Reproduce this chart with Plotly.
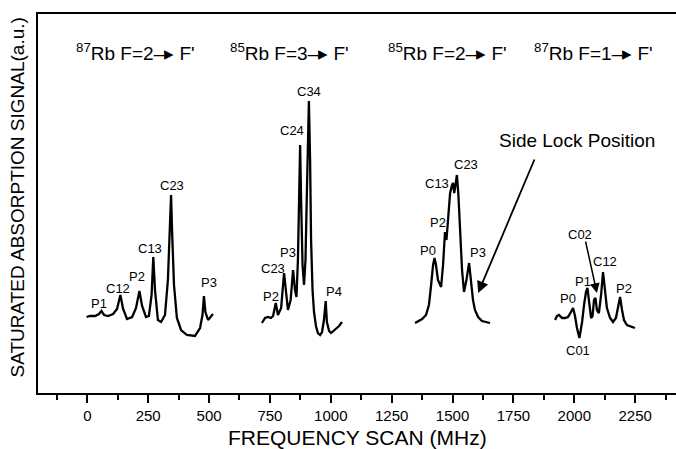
import plotly.graph_objects as go

# ---- data (frequency in MHz, signal in arbitrary units) ----
rb87_f2_x = [-3, 11, 32, 48, 58, 69, 85, 106, 122, 136, 147, 163, 184, 200, 214, 225, 241, 253, 264, 271,
             278, 290, 303, 319, 331, 340, 344, 348, 356, 368, 385, 409, 442, 463, 473, 479, 485, 496, 508, 516]
rb87_f2_y = [76, 77, 77, 79, 82, 78, 77, 79, 84, 98, 84, 74, 76, 85, 102, 87, 76, 77, 98, 136,
             103, 73, 71, 78, 113, 163, 198, 163, 108, 75, 63, 58, 57, 65, 78, 97, 81, 73, 76, 79]

rb85_f3_x = [717, 730, 742, 754, 763, 774, 783, 796, 808, 816, 824, 835, 845, 853, 859, 865, 869, 874, 878, 884,
             890, 896, 902, 906, 910, 915, 919, 925, 931, 939, 947, 956, 964, 972, 979, 984, 993, 1001, 1017, 1034, 1046]
rb85_f3_y = [70, 75, 76, 75, 77, 90, 78, 85, 120, 98, 83, 93, 123, 103, 96, 133, 193, 248, 193, 128,
             108, 133, 203, 253, 292, 233, 153, 103, 81, 67, 60, 58, 61, 73, 92, 71, 62, 60, 63, 67, 71]

rb85_f2_x = [1346, 1358, 1375, 1391, 1403, 1412, 1420, 1426, 1432, 1440, 1453, 1461, 1469, 1475, 1481, 1490, 1498,
             1502, 1507, 1512, 1518, 1524, 1531, 1539, 1547, 1557, 1568, 1576, 1584, 1592, 1605, 1621, 1637, 1654]
rb85_f2_y = [70, 72, 74, 78, 88, 108, 128, 135, 128, 113, 106, 128, 161, 153, 173, 200, 208,
             210, 200, 208, 218, 198, 166, 123, 101, 113, 130, 113, 93, 83, 76, 72, 71, 70]

rb87_f1_x = [1921, 1929, 1937, 1950, 1962, 1974, 1982, 1995, 2003, 2011, 2021, 2032, 2040, 2048, 2054, 2060, 2069, 2075,
             2081, 2087, 2093, 2101, 2110, 2118, 2126, 2134, 2147, 2159, 2171, 2180, 2188, 2196, 2204, 2216, 2229, 2249]
rb87_f1_y = [73, 77, 78, 75, 75, 76, 79, 85, 77, 65, 55, 71, 88, 101, 105, 93, 75, 77,
             93, 95, 83, 80, 98, 121, 103, 85, 75, 71, 75, 85, 96, 83, 73, 68, 67, 65]

# peak labels
peak_names = ["P1", "C12", "P2", "C13", "C23", "P3",
              "P2", "C23", "P3", "C24", "C34", "P4",
              "P0", "P2", "C13", "C23", "P3",
              "P0", "P1", "C02", "C12", "P2", "C01"]
peak_x = [48, 126, 204, 257, 348, 500,
          754, 763, 824, 841, 910, 1013,
          1399, 1440, 1436, 1555, 1605,
          1974, 2036, 2023, 2126, 2204, 2015]
peak_y = [90, 105, 117, 145, 208, 111,
          97, 125, 141, 263, 302, 102,
          143, 171, 210, 229, 141,
          95, 112, 159, 132, 105, 43]

group_titles = ["<sup>87</sup>Rb F=2\u2013\u25b8 F'", "<sup>85</sup>Rb F=3\u2013\u25b8 F'",
                "<sup>85</sup>Rb F=2\u2013\u25b8 F'", "<sup>87</sup>Rb F=1\u2013\u25b8 F'"]
group_title_x = [-55, 578, 1227, 1826]
group_title_y = 341

tick_vals = [0, 250, 500, 750, 1000, 1250, 1500, 1750, 2000, 2250]
tick_text = [str(v) for v in tick_vals]

FONT = "Liberation Sans, Arial, sans-serif"

fig = go.Figure()
for xs, ys in [(rb87_f2_x, rb87_f2_y), (rb85_f3_x, rb85_f3_y), (rb85_f2_x, rb85_f2_y), (rb87_f1_x, rb87_f1_y)]:
    fig.add_trace(go.Scatter(x=xs, y=ys, mode="lines", line=dict(color="black", width=2.3),
                             showlegend=False, hoverinfo="skip"))

ann = []
for name, x, y in zip(peak_names, peak_x, peak_y):
    ann.append(dict(x=x, y=y, xref="x", yref="y", text=name, showarrow=False,
                    font=dict(family=FONT, size=13, color="black")))
for t, x in zip(group_titles, group_title_x):
    ann.append(dict(x=x, y=group_title_y, xref="x", yref="y", text=t, showarrow=False,
                    xanchor="left", font=dict(family=FONT, size=19, color="black")))
ann.append(dict(x=2011, y=253, xref="x", yref="y", text="Side Lock Position", showarrow=False,
                font=dict(family=FONT, size=19, color="black")))
# arrows
ann.append(dict(x=1605, y=100, ax=1839, ay=235, xref="x", yref="y", axref="x", ayref="y",
                text="", showarrow=True, arrowhead=2, arrowsize=1.3, arrowwidth=1.8, arrowcolor="black"))
ann.append(dict(x=2093, y=100, ax=2045, ay=153, xref="x", yref="y", axref="x", ayref="y",
                text="", showarrow=True, arrowhead=2, arrowsize=1.3, arrowwidth=1.5, arrowcolor="black"))
# axis titles
ann.append(dict(x=(357 - 38) / 638, y=(393 - 437) / 379, xref="paper", yref="paper",
                text="FREQUENCY SCAN (MHz)", showarrow=False, xanchor="center", yanchor="middle",
                font=dict(family=FONT, size=21, color="black")))
ann.append(dict(x=(17.5 - 38) / 638, y=(393 - 198) / 379, xref="paper", yref="paper",
                text="SATURATED ABSORPTION SIGNAL(a.u.)", showarrow=False, textangle=-90,
                xanchor="center", yanchor="middle",
                font=dict(family=FONT, size=19, color="black")))

fig.update_layout(
    width=676, height=449,
    margin=dict(l=38, r=0, t=14, b=56),
    paper_bgcolor="white", plot_bgcolor="white",
    annotations=ann,
    xaxis=dict(range=[-202.5, 2417.7], tickmode="array", tickvals=tick_vals, ticktext=tick_text,
               ticks="outside", ticklen=8, tickwidth=1.5, tickcolor="black",
               minor=dict(tickmode="linear", tick0=-125, dtick=250, ticks="outside", ticklen=5,
                          tickwidth=1.5, tickcolor="black"),
               showline=True, linewidth=2, linecolor="black", mirror=True,
               showgrid=False, zeroline=False,
               tickfont=dict(family=FONT, size=15, color="black")),
    yaxis=dict(range=[0, 379], showticklabels=False, ticks="", showline=True, linewidth=2,
               linecolor="black", showgrid=False, zeroline=False),
)

fig.write_html("out.html", config={"displayModeBar": False},
               post_script="document.body.style.margin='0';document.body.style.overflow='hidden';")
